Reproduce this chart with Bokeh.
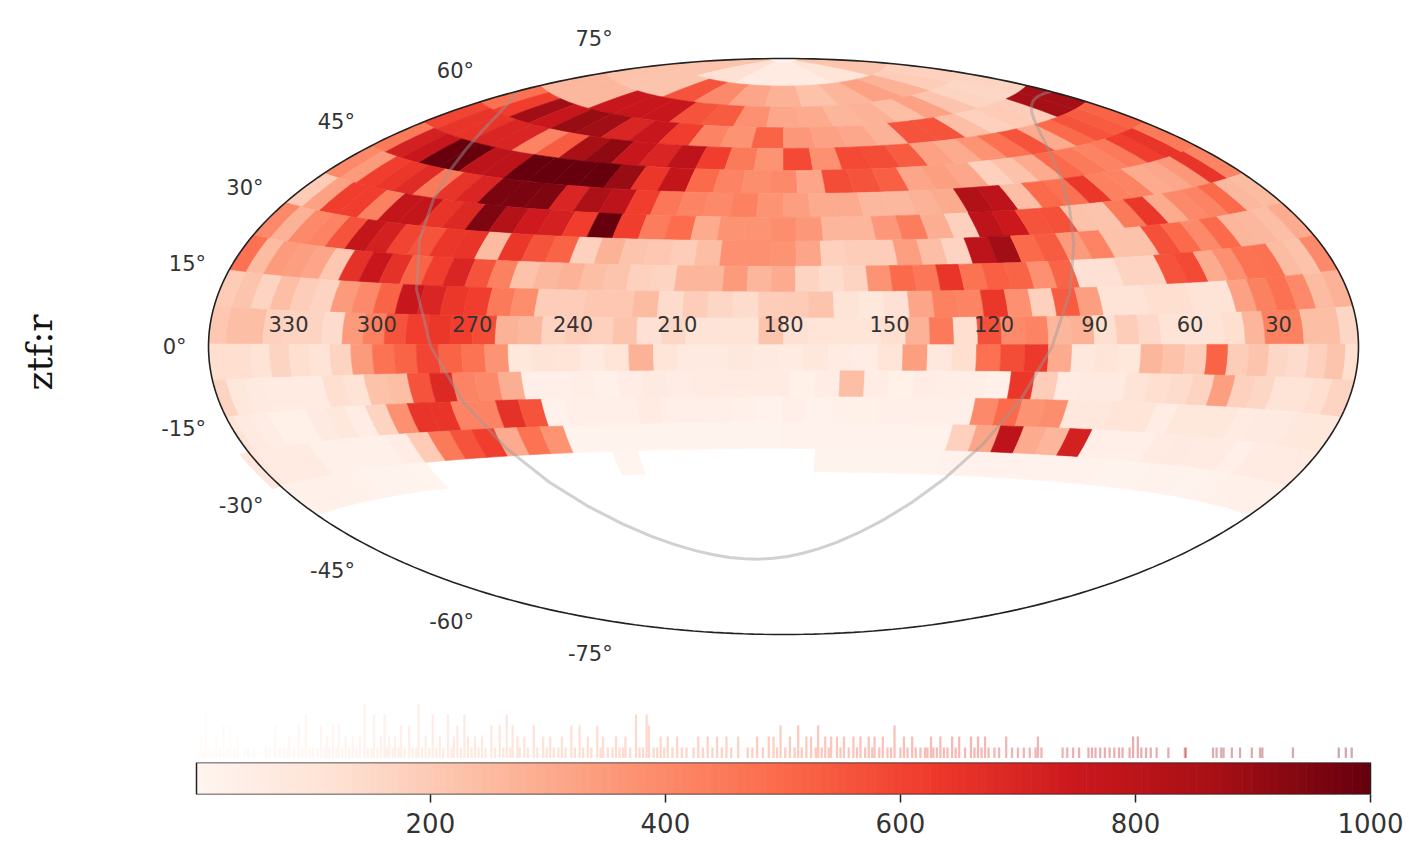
import numpy as np
from bokeh.plotting import figure
from bokeh.layouts import column
from bokeh.models import ColumnDataSource, LinearColorMapper, FixedTicker, Range1d
from bokeh.palettes import Reds256
from bokeh.transform import transform
from bokeh.core.properties import value
from bokeh.embed import file_html
from bokeh.resources import INLINE

# ---- data -----------------------------------------------------------------
lat_edges = [90, 88.5, 79.5, 72, 65, 58.2, 51.2, 44.1, 37, 30, 22.7, 15.4, 8, 0.5,
             -6.8, -14.2, -21.6, -29, -35.8]
row_shift = [0, 0, 0, 0, 0, 0, 0, 0, 0, 0, 0, 0, 0, -2, 1.6, 4, 11.5, 2]

row00 = [5]
row01 = [220, 120, 60, 60, 100, 220]
row02 = [230, 220, 220, 560, 400, 320, 280, 230, 270, 330, 280, 190, 180]
row03 = [260, 260, 260, 760, 760, 760, 560, 540, 380, 310, 300, 270, 280, 240, 330, 220, 170, 160, 170]
row04 = [480, 620, 880, 760, 900, 880, 700, 760, 620, 420, 370, 520, 360, 330, 310, 280, 560, 560, 240, 180, 200, 190, 870, 870]
row05 = [600, 650, 650, 700, 700, 420, 540, 860, 920, 760, 700, 800, 620, 450, 370, 590, 380, 590, 580, 540, 330, 300, 370, 480, 560, 300, 500, 560, 540, 520]
row06 = [450, 720, 760, 1000, 1000, 800, 800, 1000, 1000, 1000, 1000, 900, 640, 780, 500, 420, 390, 400, 320, 580, 560, 530, 320, 340, 310, 180, 230, 300, 500, 450, 420, 450, 620, 650, 450]
row07 = [400, 350, 620, 640, 680, 450, 650, 700, 960, 960, 950, 700, 850, 800, 620, 460, 420, 400, 430, 370, 340, 300, 300, 260, 260, 280, 300, 840, 800, 240, 500, 480, 640, 430, 420, 300, 310, 360, 650, 420]
row08 = [200, 330, 620, 620, 430, 780, 780, 650, 690, 950, 830, 740, 720, 620, 1000, 620, 440, 490, 300, 370, 370, 390, 360, 270, 270, 360, 440, 290, 180, 800, 750, 560, 570, 230, 220, 450, 640, 300, 400, 420, 500, 260, 250]
row09 = [400, 280, 400, 420, 560, 780, 720, 600, 560, 640, 650, 250, 640, 560, 520, 180, 280, 220, 210, 190, 240, 380, 380, 370, 320, 180, 190, 190, 340, 240, 170, 800, 880, 500, 540, 350, 420, 230, 230, 570, 500, 400, 500, 270, 260, 240, 300]
row10 = [480, 250, 350, 340, 320, 210, 660, 760, 660, 520, 620, 700, 560, 430, 230, 260, 280, 240, 220, 180, 170, 270, 270, 350, 270, 300, 170, 140, 170, 370, 500, 460, 650, 470, 530, 520, 380, 520, 120, 120, 170, 170, 560, 590, 300, 380, 470, 480, 250, 230, 400]
row11 = [200, 220, 170, 240, 190, 170, 350, 400, 520, 760, 700, 640, 620, 450, 390, 190, 190, 210, 210, 250, 140, 190, 160, 140, 190, 200, 220, 110, 90, 120, 320, 430, 420, 640, 380, 180, 540, 340, 110, 110, 130, 130, 110, 110, 330, 430, 480, 400, 250, 280]
row12 = [210, 240, 240, 180, 170, 170, 140, 350, 430, 560, 620, 640, 620, 580, 280, 260, 170, 190, 180, 220, 120, 160, 110, 110, 110, 220, 120, 100, 100, 100, 130, 280, 450, 130, 570, 400, 420, 270, 280, 130, 190, 150, 110, 110, 110, 130, 270, 430, 430, 240, 240, 160]
row13 = [130, 130, 110, 170, 130, 110, 170, 350, 470, 520, 600, 520, 470, 370, 90, 110, 100, 70, 100, 280, 100, 70, 70, 80, 70, 60, 90, 60, 50, 100, 340, 80, 130, 480, 580, 630, 300, 80, 100, 90, 270, 230, 190, 520, 190, 220, 160, 140, 180, 220, 130]
row14 = [170, 90, 70, 60, 60, 60, 130, 110, 230, 240, 560, 690, 420, 400, 290, 40, 40, 45, 25, 55, 70, 55, 60, 60, 60, 60, 35, 55, 240, 50, 35, 50, 45, 45, 30, 640, 190, 60, 70, 70, 110, 130, 140, 170, 340, 180, 160, 110, 110, 130, 170]
row15 = [110, 70, 50, 35, 35, 70, 90, 50, 170, 380, 650, 650, 420, 420, 660, 560, 20, 40, 40, 40, 60, 40, 40, 40, 25, 20, 40, 20, 25, 35, 40, 40, 40, 40, 400, 500, 370, 390, 80, 85, 100, 100, 50, 90, 90, 90, 60, 70, 70, 80, 90]
row16 = [120, 80, 60, 60, 60, 30, 30, 30, 30, 50, 200, 450, 560, 620, 300, 470, 370, 15, 15, 15, 15, 15, 15, 15, 15, 15, 20, 20, 20, 20, 20, 20, 20, 180, 320, 800, 300, 270, 720, 40, 40, 40, 60, 70, 60, 60, 40, 60, 60]
row17 = [30, 30, 30, 25, 20, 15, 15, 12, None, None, None, None, None, None, None, None, 12, None, None, None, None, None, None, None,
         15, 15, 15, 15, 15, 18, 18, 18, 18, 18, 18, 18, 15, 15, 18, 18, 15, 20, 25, 30, 30]
rows = [row00, row01, row02, row03, row04, row05, row06, row07, row08, row09, row10, row11, row12, row13, row14, row15, row16, row17]

plane_ra = [0, 5.36, 12.86, 20.36, 27.86, 35.36, 42.86, 50.36, 57.86, 65.36, 72.86, 80.36, 87.86, 95.36, 102.86, 110.36, 117.86, 125.36, 132.86, 140.36, 147.86, 155.36, 162.86, 170.36, 177.86, 185.36, 192.86, 200.36, 207.86, 215.36, 222.86, 230.36, 237.86, 245.36, 252.86, 260.36, 267.86, 275.36, 282.86, 290.36, 297.86, 305.36, 312.86, 320.36, 327.86, 335.36, 342.86, 350.36, 357.86, 360]
plane_dec = [62.27, 62.67, 62.87, 62.67, 62.05, 60.99, 59.39, 57.14, 54.07, 49.91, 44.29, 36.76, 26.8, 14.29, 0, -14.29, -26.8, -36.76, -44.29, -49.91, -54.07, -57.14, -59.39, -60.99, -62.05, -62.67, -62.87, -62.67, -62.05, -60.99, -59.39, -57.14, -54.07, -49.91, -44.29, -36.76, -26.8, -14.29, 0, 14.29, 26.8, 36.76, 44.29, 49.91, 54.07, 57.14, 59.39, 60.99, 62.05, 62.27]

ra_ticks = [330, 300, 270, 240, 210, 180, 150, 120, 90, 60, 30]
dec_ticks = [75, 60, 45, 30, 15, 0, -15, -30, -45, -60, -75]
cbar_ticks = [200, 400, 600, 800, 1000]
axis_label = "ztf:r"

hist_v1 = [2, 7, 12, 15, 21, 27, 33, 42, 45, 50, 60, 63, 72, 75, 78, 84, 91, 97, 100, 104, 110, 114, 120, 125, 131, 137, 147, 150, 155, 163, 168, 173, 178, 185, 188, 193, 199, 205, 211, 218, 226, 235, 241, 247, 255, 262, 268, 276, 283, 291, 299, 305, 309, 315, 323, 330, 337, 345, 351, 355, 361, 364, 370, 378, 381, 390, 393, 399, 406, 414, 418, 424, 432, 440, 448, 456, 470, 474, 483, 495, 502, 510, 516, 528, 533, 539, 549, 556, 563, 570, 576, 582, 589, 592, 600, 606, 613, 617, 621, 623, 628, 631, 637, 640, 647, 655, 663, 669, 675, 680, 684, 695, 700, 705, 710, 715, 720, 738, 742, 747, 752, 760, 763, 766, 770, 774, 778, 782, 786, 789, 795, 805, 809, 813, 818, 828, 842, 843, 866, 869, 873, 875, 882, 889, 899, 906, 908, 934, 973, 979, 984]
hist_v2 = [5, 18, 36, 80, 112, 128, 134, 140, 158, 165, 170, 196, 208, 220, 232, 238, 244, 274, 280, 296, 302, 312, 334, 347, 358, 366, 396, 402, 410, 428, 436, 444, 452, 462, 478, 488, 492, 506, 520, 524, 536, 541, 546, 552, 560, 566, 573, 578, 585, 603, 610, 626, 634, 644, 650, 660, 666, 672, 690, 717, 798, 802]
hist_v3 = [24, 30, 68, 88, 107, 117, 122, 175, 182, 223, 252, 259, 270, 288, 320, 327, 342, 386, 498, 513, 530, 595]
hist_v4 = [9, 94, 152, 161, 202, 215, 229, 265, 375, 384]
hist_v5 = [144, 190]

# ---- geometry --------------------------------------------------------------
def hammer(lon, lat):
    lam = np.radians(np.asarray(lon, float) - 180.0)
    phi = np.radians(np.asarray(lat, float))
    d = np.sqrt(1 + np.cos(phi) * np.cos(lam / 2))
    return -np.cos(phi) * np.sin(lam / 2) / d, np.sin(phi) / d

cmap = LinearColorMapper(palette=list(Reds256[::-1]), low=1, high=1000)
W = 1405
CX, CY, AX, AY = 783, 346, 575, 288   # centre and semi axes inside the figure, px

xs, ys, vals = [], [], []
for i, row in enumerate(rows):
    n = len(row)
    e = 360 + row_shift[i] - 360.0 / n * np.arange(n + 1)
    e[0], e[-1] = 360, 0
    for k, v in enumerate(row):
        if v is None:
            continue
        top, bot = lat_edges[i], lat_edges[i + 1]
        ln = np.linspace(e[k], e[k + 1], 6)
        la = np.linspace(top, bot, 4)
        plon = np.r_[ln, np.full(4, e[k + 1]), ln[::-1], np.full(4, e[k])]
        plat = np.r_[np.full(6, top), la, np.full(6, bot), la[::-1]]
        x, y = hammer(plon, plat)
        xs.append(x.tolist()); ys.append(y.tolist()); vals.append(v)

H1 = 695
p = figure(width=W, height=H1, output_backend="svg", toolbar_location=None,
           x_range=Range1d(-CX / AX, (W - CX) / AX), y_range=Range1d((CY - H1) / AY, CY / AY),
           x_axis_type=None, y_axis_type=None, min_border=0, outline_line_color=None)
p.grid.visible = False
p.patches(xs="xs", ys="ys", source=ColumnDataSource(dict(xs=xs, ys=ys, v=vals)),
          fill_color=transform("v", cmap), line_color=transform("v", cmap), line_width=0.6)

gx, gy = hammer(plane_ra, plane_dec)
p.line(gx, gy, line_color="#999999", line_alpha=0.45, line_width=3)

t = np.linspace(0, 2 * np.pi, 361)
p.line(np.cos(t), np.sin(t), line_color="#222222", line_width=1.6)

lx, ly = hammer(ra_ticks, np.zeros(len(ra_ticks)))
p.text(lx, ly, text=[str(v) for v in ra_ticks], text_font=value("DejaVu Sans"), text_font_size="21px",
       text_color="#333333", text_align="center", text_baseline="middle", y_offset=-23)
dx, dy = hammer(np.full(len(dec_ticks), 360.0), dec_ticks)
off = [-30 * np.sin(np.radians(d)) for d in dec_ticks]
p.text(dx, dy, text=[f"{d}\u00b0" for d in dec_ticks], text_font=value("DejaVu Sans"), text_font_size="21px",
       text_color="#333333", text_align="right", text_baseline="middle",
       x_offset=-22, y_offset=off)
p.text([(39 - CX) / AX], [(CY - 352) / AY], text=[axis_label], text_font=value("DejaVu Serif"), text_font_size="36px",
       text_color="#111111", text_align="center", text_baseline="middle", angle=np.pi / 2)

BAR_L, BAR_R = 196, 1370
k = (BAR_R - BAR_L) / 999.0
x_rng = (1 - BAR_L / k, 1000 + (W - BAR_R) / k)

h = figure(width=W, height=63, output_backend="svg", toolbar_location=None,
           x_range=Range1d(*x_rng), y_range=Range1d(0, 5.73), x_axis_type=None, y_axis_type=None,
           min_border=0, outline_line_color=None)
h.grid.visible = False
hv = hist_v1 + hist_v2 + hist_v3 + hist_v4 + hist_v5
hc = [1] * len(hist_v1) + [2] * len(hist_v2) + [3] * len(hist_v3) + [4] * len(hist_v4) + [5] * len(hist_v5)
h.vbar(x="v", top="c", bottom=0, width=1.9, source=ColumnDataSource(dict(v=hv, c=hc)),
       fill_color=transform("v", cmap), line_color=None, fill_alpha=0.35)

c = figure(width=W, height=92, output_backend="svg", toolbar_location=None,
           x_range=Range1d(*x_rng), y_range=Range1d(0, 1), y_axis_type=None,
           min_border_left=0, min_border_right=0, min_border_top=4, min_border_bottom=56,
           outline_line_color=None)
c.grid.visible = False
edges = np.linspace(1, 1000, 129)
c.quad(left="l", right="r", bottom=0, top=1, line_color=None, fill_color=transform("m", cmap),
       source=ColumnDataSource(dict(l=edges[:-1], r=np.r_[edges[1:-1] + 0.5, edges[-1]], m=(edges[:-1] + edges[1:]) / 2)))
c.quad(left=[1], right=[1000], bottom=[0], top=[1], fill_color=None, line_color="#222222", line_width=1.5)
ax = c.xaxis[0]
ax.ticker = FixedTicker(ticks=cbar_ticks)
ax.axis_line_color = None
ax.major_tick_line_color = "#222222"
ax.major_tick_line_width = 1.5
ax.major_tick_out = 8
ax.major_tick_in = 0
ax.minor_tick_line_color = None
ax.major_label_text_font = "DejaVu Sans"
ax.major_label_text_font_size = "26px"
ax.major_label_text_color = "#333333"
ax.major_label_standoff = 10

page = column(p, h, c, spacing=0)
open("out.html", "w").write(file_html(page, INLINE))
